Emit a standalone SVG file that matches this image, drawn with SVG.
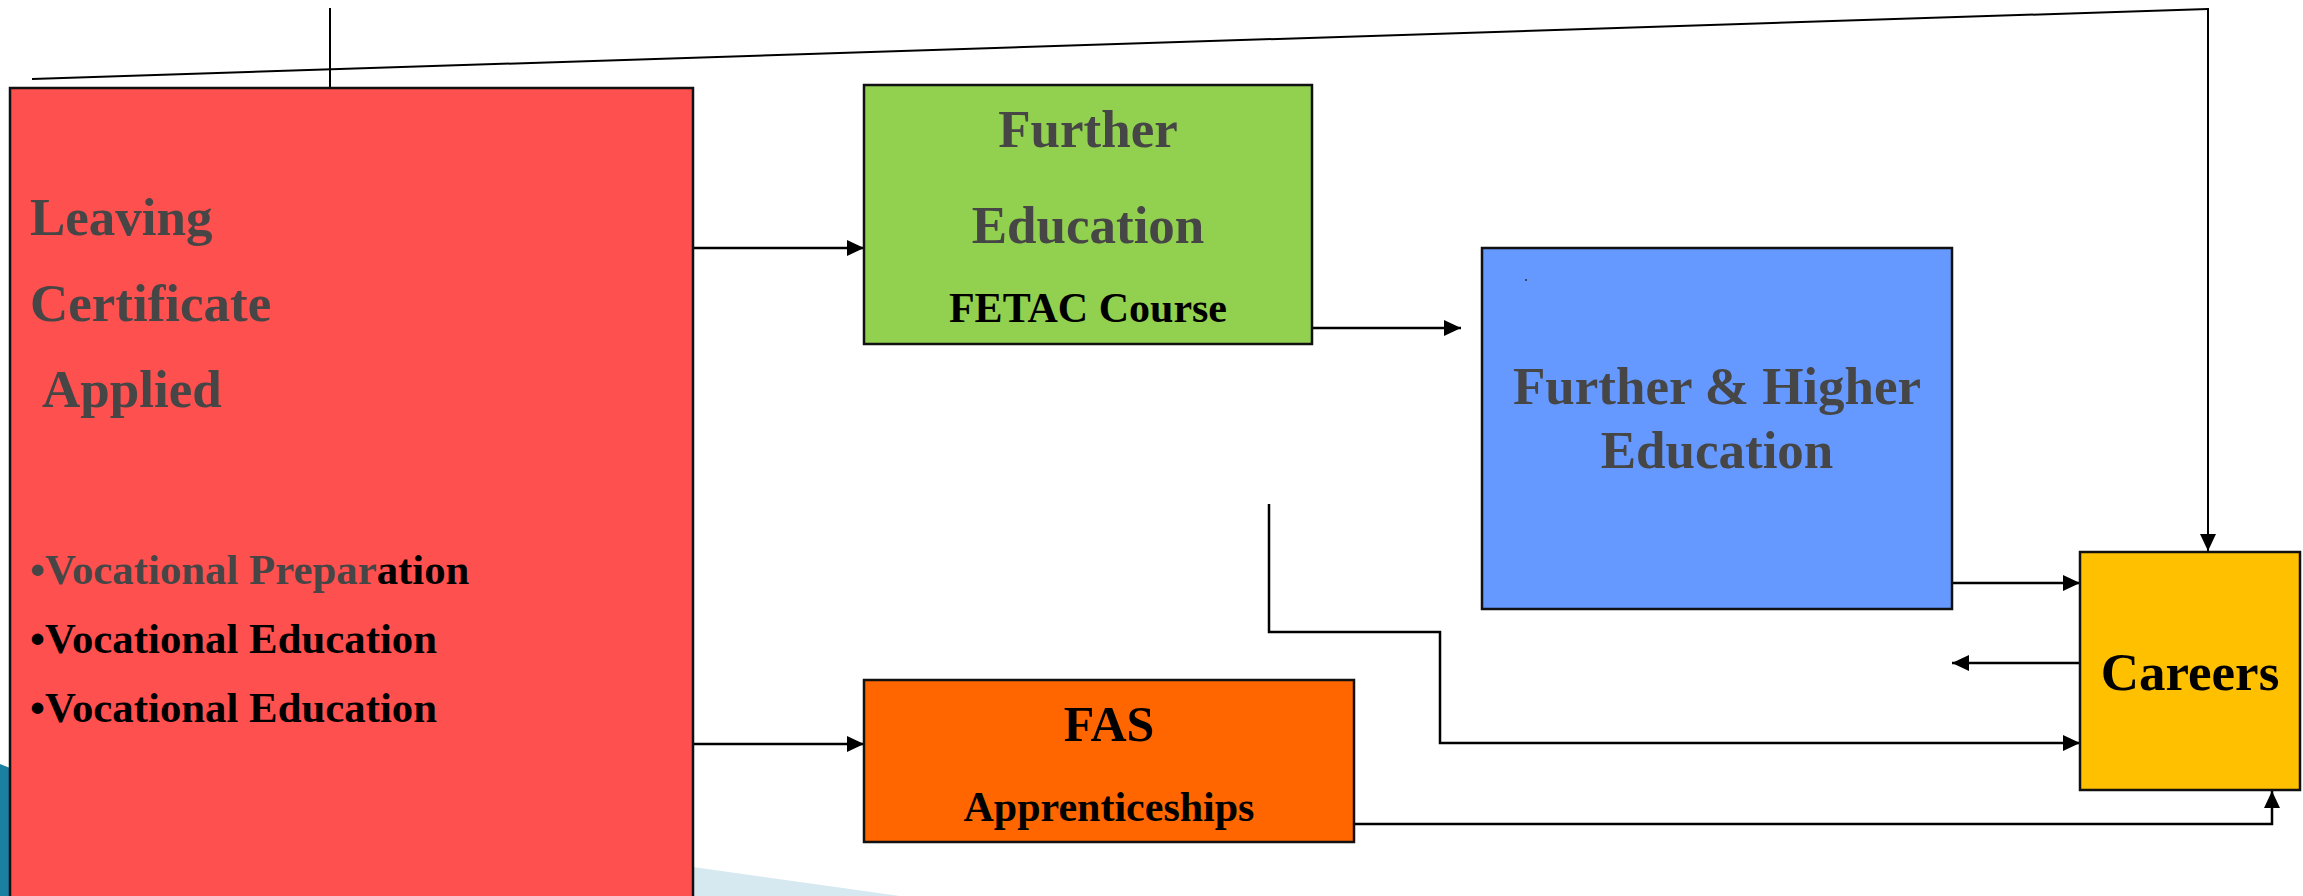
<svg xmlns="http://www.w3.org/2000/svg" width="2303" height="896" viewBox="0 0 2303 896">
<style>
.box{stroke:#111;stroke-width:2.5}
.h{font-family:"Liberation Serif","Times New Roman",serif;font-weight:bold;font-size:53px;fill:#464646}
.b{font-family:"Liberation Serif","Times New Roman",serif;font-weight:bold;font-size:42px;fill:#000}
.bl{font-size:42.8px}
.c{stroke:#000;stroke-width:2.5;fill:none}
.t{stroke:#000;stroke-width:2;fill:none}
</style>
<defs>
<marker id="ah" markerUnits="userSpaceOnUse" markerWidth="19" markerHeight="16" refX="17" refY="8" orient="auto">
<path d="M0,0 L17,8 L0,16 Z" fill="#000"/>
</marker>
</defs>
<rect width="2303" height="896" fill="#fff"/>
<g id="background">
<polygon points="0,764 10,768 10,896 0,896" fill="#1a7fa0"/>
<polygon points="693,867 900,896 693,896" fill="#d6e8f0"/>
</g>
<g id="connectors">
<line class="t" x1="330" y1="8" x2="330" y2="88"/>
<line class="t" x1="32" y1="79" x2="2208" y2="9"/>
<line class="t" x1="2208" y1="8" x2="2208" y2="551" marker-end="url(#ah)"/>
<line class="c" x1="693" y1="248" x2="864" y2="248" marker-end="url(#ah)"/>
<line class="c" x1="693" y1="744" x2="864" y2="744" marker-end="url(#ah)"/>
<line class="c" x1="1312" y1="328" x2="1461" y2="328" marker-end="url(#ah)"/>
<line class="c" x1="1952" y1="583" x2="2080" y2="583" marker-end="url(#ah)"/>
<line class="c" x1="2080" y1="663" x2="1952" y2="663" marker-end="url(#ah)"/>
<polyline class="c" points="1269,504 1269,632 1440,632 1440,743 2080,743" marker-end="url(#ah)"/>
<polyline class="c" points="1354,824 2272,824 2272,791" marker-end="url(#ah)"/>
</g>
<g id="node-leaving-cert">
<rect class="box" x="10" y="88" width="683" height="820" fill="#ff5050"/>
<text class="h" x="30" y="235">Leaving</text>
<text class="h" x="30" y="321">Certificate</text>
<text class="h" x="42" y="407">Applied</text>
<text class="b bl" x="30" y="584"><tspan fill="#464646">•Vocational Prepar</tspan>ation</text>
<text class="b bl" x="30" y="653">•Vocational Education</text>
<text class="b bl" x="30" y="722">•Vocational Education</text>
</g>
<g id="node-further-education">
<rect class="box" x="864" y="85" width="448" height="259" fill="#92d050"/>
<text class="h" x="1088" y="147" text-anchor="middle">Further</text>
<text class="h" x="1088" y="243" text-anchor="middle">Education</text>
<text class="b" x="1088" y="322" text-anchor="middle">FETAC Course</text>
</g>
<g id="node-further-higher">
<rect class="box" x="1482" y="248" width="470" height="361" fill="#6699ff"/>
<rect x="1525" y="279" width="2" height="2" fill="#464646"/>
<text class="h" x="1717" y="404" text-anchor="middle">Further &amp; Higher</text>
<text class="h" x="1717" y="468" text-anchor="middle">Education</text>
</g>
<g id="node-fas">
<rect class="box" x="864" y="680" width="490" height="162" fill="#ff6600"/>
<text class="b" x="1109" y="741" text-anchor="middle" style="font-size:50px">FAS</text>
<text class="b" x="1109" y="821" text-anchor="middle">Apprenticeships</text>
</g>
<g id="node-careers">
<rect class="box" x="2080" y="552" width="220" height="238" fill="#ffc000"/>
<text class="h" x="2190" y="690" text-anchor="middle" style="fill:#000">Careers</text>
</g>
</svg>
